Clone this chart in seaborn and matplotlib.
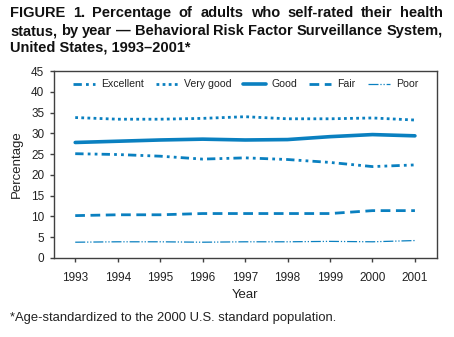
import matplotlib
matplotlib.use("Agg")
import matplotlib.pyplot as plt
import seaborn as sns
import pandas as pd

years = [1993, 1994, 1995, 1996, 1997, 1998, 1999, 2000, 2001]
excellent = [25.1, 24.9, 24.5, 23.8, 24.1, 23.7, 23.0, 22.0, 22.4]
very_good = [33.8, 33.4, 33.4, 33.6, 34.0, 33.5, 33.5, 33.7, 33.2]
good = [27.8, 28.1, 28.4, 28.6, 28.4, 28.5, 29.2, 29.7, 29.4]
fair = [10.2, 10.4, 10.4, 10.7, 10.7, 10.7, 10.7, 11.4, 11.4]
poor = [3.8, 3.9, 3.9, 3.8, 3.9, 3.9, 4.0, 3.9, 4.2]
series_names = ["Excellent", "Very good", "Good", "Fair", "Poor"]
yticks = [0, 5, 10, 15, 20, 25, 30, 35, 40, 45]
title_lines = ["FIGURE 1. Percentage of adults who self-rated their health",
               "status, by year \u2014 Behavioral Risk Factor Surveillance System,",
               "United States, 1993\u20132001*"]
footnote = "*Age-standardized to the 2000 U.S. standard population."

sns.set_style("ticks")
plt.rcParams['font.family'] = ['Liberation Sans', 'DejaVu Sans']

blue = "#0a80c0"
spine_col = "#404040"
text_col = "#222222"
W, H = 454, 337

df = pd.DataFrame({"Year": years * 5,
                   "Value": excellent + very_good + good + fair + poor,
                   "Status": sum([[n] * len(years) for n in series_names], [])})

fig = plt.figure(figsize=(W / 100, H / 100), dpi=100)
ax = fig.add_axes([54 / W, 1 - 258 / H, (437 - 54) / W, (258 - 71) / H])

styles = {
    "Excellent": dict(lw=2.0, dashes=(3.0, 1.5, 1.0, 1.5, 1.0, 1.5)),
    "Very good": dict(lw=2.0, dashes=(1.0, 1.2)),
    "Good": dict(lw=2.6, dashes=None),
    "Fair": dict(lw=2.0, dashes=(3.5, 2.0)),
    "Poor": dict(lw=0.9, dashes=(8.0, 1.5, 1.0, 1.5, 1.0, 1.5)),
}

sns.lineplot(data=df, x="Year", y="Value", hue="Status", palette=[blue] * 5,
             ax=ax, legend=False, estimator=None)
for line, name in zip(ax.lines, series_names):
    st = styles[name]
    line.set_linewidth(st["lw"])
    if st["dashes"] is not None:
        line.set_dashes(st["dashes"])
    line.set_label(name)

ax.set_xlim(1992.5, 2001.52)
ax.set_ylim(0, 45)
ax.set_xticks(years)
ax.set_yticks(yticks)
ax.tick_params(axis="both", labelsize=8.5, colors=text_col, length=3, width=1, color=spine_col)
ax.tick_params(axis="x", pad=7)
ax.tick_params(axis="y", pad=4)
for s in ax.spines.values():
    s.set_color(spine_col)
    s.set_linewidth(1.0)
    s.set_visible(True)
ax.set_xlabel("Year", fontsize=9.5, color=text_col, labelpad=4)
ax.set_ylabel("Percentage", fontsize=9.5, color=text_col, labelpad=6)

leg = ax.legend(loc="upper center", ncol=5, frameon=False, fontsize=7.6,
                bbox_to_anchor=(0.5, 1.0), handlelength=2.1, columnspacing=1.15,
                handletextpad=0.55, borderaxespad=0.4)
for t in leg.get_texts():
    t.set_color(text_col)

# Title: justified lines (except last), as in the reference
renderer = fig.canvas.get_renderer()
left_px, right_px = 10, 443
baselines = [17, 35, 52]
tkw = dict(fontsize=10.5, fontweight="bold", color="#111111", va="baseline", ha="left")
for i, (line_txt, base) in enumerate(zip(title_lines, baselines)):
    y = 1 - base / H
    if i == len(title_lines) - 1:
        fig.text(left_px / W, y, line_txt, **tkw)
        continue
    words = line_txt.split(" ")
    arts = [fig.text(0, y, w, **tkw) for w in words]
    widths = [a.get_window_extent(renderer).width for a in arts]
    gap = (right_px - left_px - sum(widths)) / (len(words) - 1)
    x = left_px
    for a, w in zip(arts, widths):
        a.set_x(x / W)
        x += w + gap

fig.text(10 / W, 1 - 318 / H, footnote,
         fontsize=9.4, va="center", ha="left", color=text_col)

fig.savefig("out.png", dpi=100)
